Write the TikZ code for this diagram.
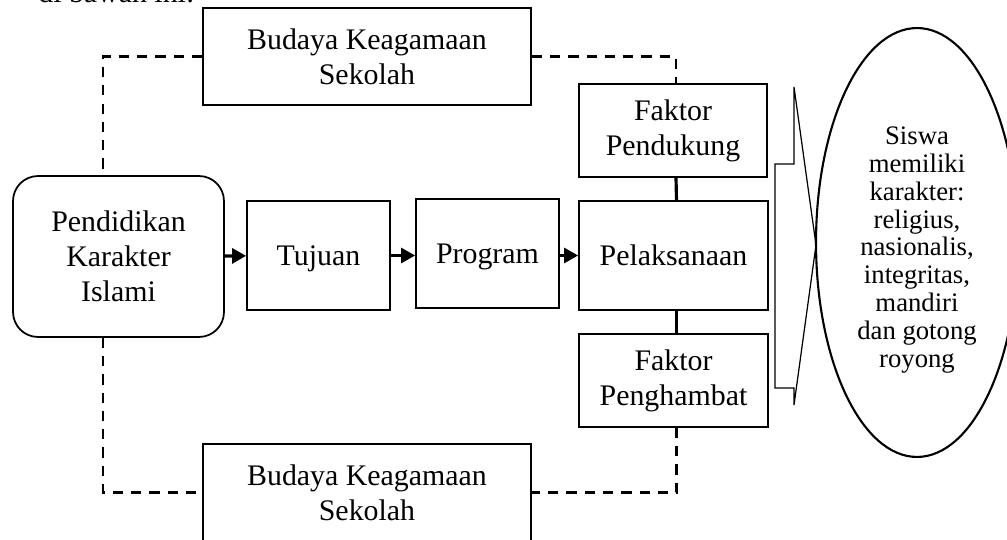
\documentclass[tikz,border=0pt]{standalone}
\usepackage{fontspec}
\setmainfont{Liberation Serif}
\usetikzlibrary{shapes.geometric, arrows.meta}

\newcommand{\teksutama}{\fontsize{17}{19.9}\selectfont}
\newcommand{\tekskecil}{\fontsize{15.2}{15.9}\selectfont}

\begin{document}
\begin{tikzpicture}[>={Triangle[length=8pt,width=8.5pt]}, x=0.02cm, y=-0.02cm, font=\teksutama,
  kotak/.style={draw, line width=1pt, align=center, inner sep=0pt},
  putus/.style={line width=1.2pt, dash pattern=on 5.8pt off 4.6pt},
  panah/.style={->, line width=1.8pt},
  tebal/.style={line width=1.8pt}]
\useasboundingbox (0,0) rectangle (1007,540);
\clip (0,0) rectangle (1007,540);
\node[anchor=base west, inner sep=0pt] (pengantar) at (38,3) {di bawah ini:};
%
\node[kotak, minimum width=6.56cm, minimum height=1.94cm] (budayaatas) at (367,56.5) {Budaya Keagamaan\\Sekolah};
\node[kotak, minimum width=6.56cm, minimum height=1.94cm] (budayabawah) at (367,492.5) {Budaya Keagamaan\\Sekolah};
\node[kotak, rounded corners=0.5cm, minimum width=4.22cm, minimum height=3.22cm] (pendidikan) at (118.5,256.5) {Pendidikan\\Karakter\\Islami};
\node[kotak, minimum width=2.86cm, minimum height=2.18cm, text depth=0pt] (tujuan) at (318.5,255.5) {Tujuan};
\node[kotak, minimum width=2.86cm, minimum height=2.18cm, text depth=0pt] (program) at (487.5,253.5) {Program};
\node[kotak, minimum width=3.78cm, minimum height=2.18cm] (pelaksanaan) at (673.5,255.5) {Pelaksanaan};
\node[kotak, minimum width=3.76cm, minimum height=1.86cm] (pendukung) at (673,130.5) {Faktor\\Pendukung};
\node[kotak, minimum width=3.78cm, minimum height=1.86cm] (penghambat) at (673.5,380.5) {Faktor\\Penghambat};
%
\draw[panah] (pendidikan) -- (tujuan);
\draw[panah] (tujuan.east) -- (tujuan.east -| program.west);
\draw[panah] (program.east |- pelaksanaan.west) -- (pelaksanaan.west);
\draw[tebal] ([xshift=0.06cm]pendukung.south) -- ([xshift=0.06cm]pelaksanaan.north);
\draw[tebal] ([xshift=0.06cm]pelaksanaan.south) -- ([xshift=0.06cm]penghambat.north);
%
\draw[putus] (budayaatas.west) -| ([xshift=-0.31cm]pendidikan.north);
\draw[putus] ([xshift=-0.31cm]pendidikan.south) |- (budayabawah.west);
\draw[putus] (budayaatas.east) -| ([xshift=0.06cm]pendukung.north);
\draw[putus] ([xshift=0.06cm]penghambat.south) |- (budayabawah.east);
%
\draw[line width=0.7pt] (794,87) -- (816,245) -- (794,405) -- (794,388) -- (775,388) -- (775,164) -- (794,164) -- cycle;
\node[draw, ellipse, line width=1.2pt, minimum width=4.04cm, minimum height=8.58cm, inner sep=0pt] (hasil) at (917,242.5) {};
\node[align=center, font=\tekskecil] (hasilteks) at (917,250) {Siswa\\memiliki\\karakter:\\religius,\\nasionalis,\\integritas,\\mandiri\\dan gotong\\royong};
\end{tikzpicture}
\end{document}
